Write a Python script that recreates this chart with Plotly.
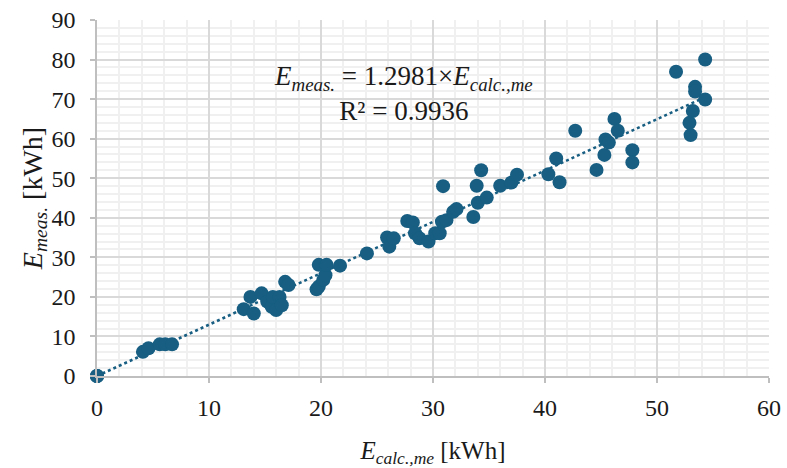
import plotly.graph_objects as go

# Data
e_calc = [0, 0, 0,
          4.1, 4.6, 5.6, 6.1, 6.7,
          13.1, 13.7, 14.0, 14.7, 15.2, 15.6, 15.7, 16.0, 16.3, 16.5, 16.8, 17.1,
          19.6, 19.8, 20.2, 20.4, 19.8, 20.5, 21.7, 24.1,
          25.9, 26.1, 26.5, 27.7, 28.2, 28.4, 28.8, 29.6, 30.2, 30.6, 30.8, 31.2, 31.8, 32.1,
          30.9, 33.6, 33.9, 34.0, 34.3, 34.8, 36.0, 37.0, 37.5,
          40.3, 41.0, 41.3, 42.7, 44.6, 45.3, 45.4, 45.7, 46.2, 46.5, 47.8, 47.8,
          51.7, 52.9, 53.0, 53.2, 53.4, 53.4, 54.3, 54.3]
e_meas = [0, 0, 0,
          6.1, 7.0, 8.0, 8.0, 8.0,
          16.9, 20.0, 15.8, 20.9, 18.8, 17.5, 20.0, 16.7, 20.0, 17.9, 23.8, 23.0,
          21.9, 22.6, 24.3, 25.5, 28.1, 28.1, 27.9, 31.0,
          35.0, 32.7, 34.8, 39.2, 38.8, 36.1, 34.8, 34.0, 36.1, 36.1, 39.0, 39.4, 41.5, 42.2,
          48.0, 40.2, 48.1, 43.8, 52.0, 45.1, 48.1, 48.9, 50.9,
          51.0, 55.0, 49.0, 62.0, 52.1, 55.9, 59.8, 59.0, 65.0, 62.0, 57.1, 54.0,
          76.9, 64.0, 60.9, 67.0, 73.1, 71.9, 80.0, 69.9]

slope = 1.2981
r_squared = 0.9936

x_ticks = [0, 10, 20, 30, 40, 50, 60]
y_ticks = [0, 10, 20, 30, 40, 50, 60, 70, 80, 90]

color = "#175E82"
font_family = "Liberation Serif"
text_color = "#1a1a1a"

trend_x = [0, max(e_calc)]
trend_y = [slope * v for v in trend_x]

fig = go.Figure()
fig.add_trace(go.Scatter(
    x=trend_x, y=trend_y, mode="lines",
    line=dict(color=color, width=2.5, dash="dot"),
    hoverinfo="skip", showlegend=False,
))
fig.add_trace(go.Scatter(
    x=e_calc, y=e_meas, mode="markers",
    marker=dict(color=color, size=14, line=dict(width=0)),
    showlegend=False, cliponaxis=False,
))

axis_common = dict(
    showgrid=True, gridcolor="#d9d9d9", gridwidth=1.5,
    minor=dict(dtick=2, showgrid=True, gridcolor="#f0f0f0", gridwidth=1.5),
    showline=True, linecolor="#bfbfbf", linewidth=1.5,
    ticks="outside", ticklen=5, tickcolor="#bfbfbf", tickwidth=1.5,
    zeroline=False, automargin=False,
    tickfont=dict(size=24, family=font_family, color=text_color),
)

fig.update_layout(
    width=787, height=468,
    margin=dict(l=97, r=18, t=20, b=92, autoexpand=False),
    paper_bgcolor="white", plot_bgcolor="white",
    font=dict(family=font_family, size=22, color=text_color),
    xaxis=dict(
        range=[0, 60], tickvals=x_ticks, ticktext=[str(v) for v in x_ticks],
        ticklabelstandoff=4,
        title=dict(text="<i>E</i><sub><i>calc.,me</i></sub> [kWh]",
                   font=dict(size=25, family=font_family, color=text_color), standoff=22),
        **axis_common,
    ),
    yaxis=dict(
        range=[0, 90], tickvals=y_ticks, ticktext=[str(v) for v in y_ticks],
        ticklabelstandoff=10,
        title=dict(text="<i>E</i><sub><i>meas.</i></sub> [kWh]",
                   font=dict(size=28, family=font_family, color=text_color), standoff=0),
        **axis_common,
    ),
    annotations=[
        dict(x=27.4, y=71.5, xref="x", yref="y", showarrow=False,
             text=f"<i>E</i><sub><i>meas.</i></sub> = {slope}×<i>E</i><sub><i>calc.,me</i></sub><br>R² = {r_squared}",
             font=dict(size=27, family=font_family, color=text_color),
             align="center"),
    ],
)

fig.write_html("out.html", config={"displayModeBar": False},
               post_script="document.body.style.margin='0';")
